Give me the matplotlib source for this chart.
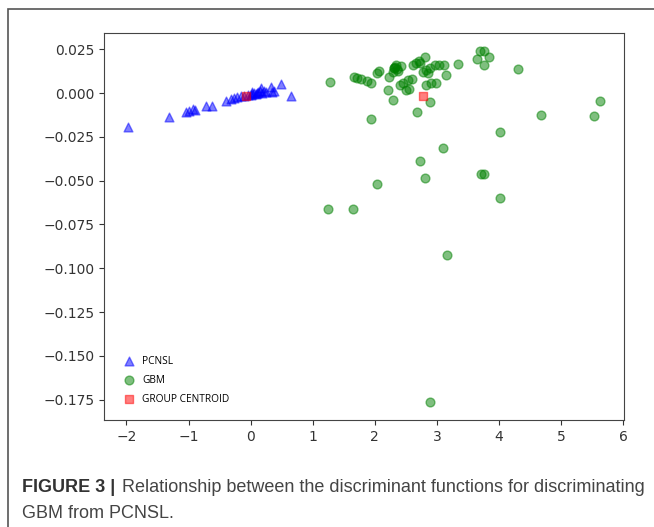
import matplotlib
matplotlib.use("Agg")
import matplotlib.pyplot as plt
from matplotlib.patches import Rectangle

# discriminant function scores
pcnsl_x = [-1.98, -1.31, -1.04, -0.99, -0.93, -0.90, -0.72, -0.62, -0.40, -0.32,
           -0.27, -0.22, -0.15, -0.10, -0.05, 0.00, 0.03, 0.06, 0.09, 0.12,
           0.15, 0.18, 0.21, 0.25, 0.16, 0.32, 0.38, 0.35, 0.49, 0.65, 0.02, 0.10]
pcnsl_y = [-0.0192, -0.0138, -0.0110, -0.0100, -0.0092, -0.0097, -0.0072, -0.0072, -0.0043, -0.0035,
           -0.0028, -0.0021, -0.0018, -0.0015, -0.0012, -0.0010, -0.0005, 0.0000, -0.0008, 0.0005,
           0.0010, 0.0002, 0.0012, 0.0008, 0.0027, 0.0033, 0.0014, 0.0005, 0.0052, -0.0017, 0.0008, -0.0002]

gbm_x = [1.28, 1.67, 1.72, 1.78, 1.88, 1.94, 2.03, 2.07, 2.21, 2.23,
         2.29, 2.31, 2.33, 2.35, 2.37, 2.30, 2.34, 2.42, 2.40, 2.45,
         2.50, 2.53, 2.55, 2.60, 2.61, 2.67, 2.71, 2.72, 2.80, 2.77,
         2.82, 2.88, 2.85, 2.82, 2.91, 2.99, 2.96, 3.04, 3.12, 3.14,
         3.34, 3.70, 3.75, 3.64, 3.84, 3.75, 4.31, 2.29, 2.88, 2.68,
         1.94, 5.63, 4.67, 5.52, 4.01, 3.10, 2.72, 2.80, 3.71, 3.76,
         2.04, 4.01, 1.25, 1.64, 3.16, 2.89]
gbm_y = [0.0061, 0.0090, 0.0086, 0.0079, 0.0071, 0.0056, 0.0113, 0.0128, 0.0018, 0.0090,
         0.0120, 0.0145, 0.0150, 0.0135, 0.0125, 0.0140, 0.0160, 0.0155, 0.0046, 0.0056,
         0.0018, 0.0075, 0.0025, 0.0079, 0.0160, 0.0174, 0.0185, 0.0170, 0.0208, 0.0122,
         0.0132, 0.0141, 0.0113, 0.0046, 0.0056, 0.0056, 0.0160, 0.0160, 0.0160, 0.0103,
         0.0166, 0.0242, 0.0242, 0.0193, 0.0204, 0.0160, 0.0137, -0.0039, -0.0049, -0.0106,
         -0.0150, -0.0045, -0.0125, -0.0131, -0.0222, -0.0311, -0.0389, -0.0485, -0.0462, -0.0462,
         -0.0520, -0.0599, -0.0660, -0.0660, -0.0922, -0.1765]

centroid_x = [-0.08, 2.77]
centroid_y = [-0.0015, -0.0017]

fig = plt.figure(figsize=(6.54, 5.27), dpi=100)
ax = fig.add_axes([104 / 654, 1 - 420 / 527, 520 / 654, 387 / 527])

ax.scatter(pcnsl_x, pcnsl_y, marker="^", color="blue", alpha=0.5, s=40, label="PCNSL")
ax.scatter(gbm_x, gbm_y, marker="o", color="green", alpha=0.5, s=40, label="GBM")
ax.scatter(centroid_x, centroid_y, marker="s", color="red", alpha=0.5, s=36, label="GROUP CENTROID")

ax.set_xticks(range(-2, 7))
ax.set_yticks([0.025, 0.0, -0.025, -0.05, -0.075, -0.1, -0.125, -0.15, -0.175])
ax.set_yticklabels(["0.025", "0.000", "\u22120.025", "\u22120.050", "\u22120.075",
                    "\u22120.100", "\u22120.125", "\u22120.150", "\u22120.175"])
for sp in ax.spines.values():
    sp.set_color("#444444")
ax.tick_params(colors="#333333", labelsize=10)

ax.legend(loc="lower left", frameon=False, prop={"family": "Open Sans", "size": 7.3},
          labelspacing=0.8, handletextpad=0.25, borderaxespad=1.1)

# outer frame of the figure panel
fig.patches.append(Rectangle((8 / 654, -0.05), 1.1, 1 - 9 / 527 + 0.05, transform=fig.transFigure,
                             fill=False, edgecolor="#555555", linewidth=1.2))

fig.text(22 / 654, 1 - 487 / 527, "FIGURE 3 |", fontsize=13, fontweight="bold",
         family="Liberation Sans", color="#333333", va="center")
fig.text(122 / 654, 1 - 487 / 527, "Relationship between the discriminant functions for discriminating",
         fontsize=13, family="Liberation Sans", color="#444444", va="center")
fig.text(22 / 654, 1 - 513 / 527, "GBM from PCNSL.", fontsize=13,
         family="Liberation Sans", color="#444444", va="center")

fig.savefig("out.png", dpi=100)
